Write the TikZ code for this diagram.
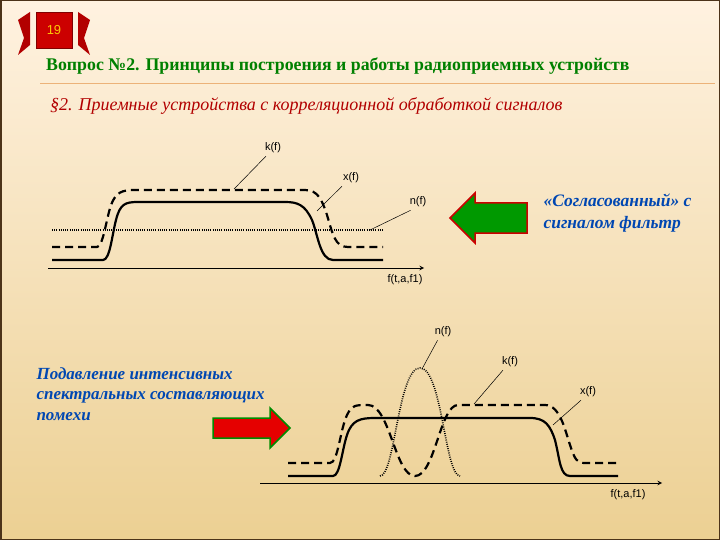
\documentclass[tikz,border=0pt]{standalone}
\usepackage{fontspec}
\setmainfont{Liberation Serif}
\setsansfont{Liberation Sans}
\begin{document}
\begin{tikzpicture}[x=1pt,y=-1pt,
  solidc/.style={line width=2.2pt},
  dashc/.style={line width=2.2pt,dash pattern=on 8pt off 5pt},
  dotc/.style={line width=1.6pt,dash pattern=on 0.9pt off 1.3pt},
  axis/.style={line width=1pt,-stealth},
  lead/.style={line width=0.5pt},
  lbl/.style={font=\sffamily\fontsize{11}{12}\selectfont,inner sep=1pt},
  bluetxt/.style={font=\bfseries\itshape\fontsize{17.5}{22}\selectfont,text=blue!60!cyan!70!black,align=left}]
\useasboundingbox (0,0) rectangle (720,540);
\shade[top color=yellow!15!orange!12, bottom color=orange!35!yellow!40!brown!50] (0,0) rectangle (720,540);
\draw[line width=3pt,brown!40!black] (0,0) rectangle (720,540);
% badge
\fill[red!70!black] (18,20) -- (30,12) -- (30,45) -- (18,55) -- (24,38) -- cycle;
\fill[red!70!black] (90,20) -- (78,12) -- (78,45) -- (90,55) -- (84,38) -- cycle;
\node[fill=red!80!black,draw=red!50!black,minimum width=36pt,minimum height=36pt,text=yellow!60!orange,font=\sffamily\fontsize{13}{14}\selectfont] (badge) at (54,30) {19};
\node[anchor=west,font=\bfseries\fontsize{17.8}{20}\selectfont,text=green!50!black,inner sep=0] (title) at (46,66) {Вопрос №2. Принципы построения и работы радиоприемных устройств};
\draw[orange!50!brown!60,line width=0.8pt] (40,83) -- (715,83);
\node[anchor=west,font=\itshape\fontsize{18}{20}\selectfont,text=red!70!black,inner sep=0] (sub) at (50,106) {§2. Приемные устройства с корреляционной обработкой сигналов};
% ---- top graph
\coordinate (ax1s) at (48,268); \coordinate (ax1e) at (424,268);
\draw[axis] (ax1s) -- (ax1e);
\draw[dotc] (52,230) -- (383,230);
\draw[solidc] (52,260) -- (103,260) .. controls (110,260) and (112,235) .. (116,220) .. controls (120,204) and (125,202) .. (138,202) -- (285,202) .. controls (298,202) and (305,205) .. (312,220) .. controls (318,235) and (320,260) .. (333,260) -- (383,260);
\draw[dashc] (52,247) -- (97,247) .. controls (103,247) and (106,220) .. (111,205) .. controls (116,192) and (122,190) .. (135,190) -- (305,190) .. controls (318,190) and (322,200) .. (327,215) .. controls (333,235) and (335,247) .. (348,247) -- (383,247);
\node[lbl] (k1) at (273,148) {k(f)};
\node[lbl] (x1) at (351,178) {x(f)};
\node[lbl] (n1) at (418,202) {n(f)};
\node[lbl] (f1) at (405,280) {f(t,a,f1)};
\coordinate (k1e) at (234,189); \coordinate (x1e) at (317,211); \coordinate (n1e) at (370,230);
\draw[lead] (k1.south west) ++(2,2) -- (k1e);
\draw[lead] (x1.south west) ++(0,2) -- (x1e);
\draw[lead] (n1.south west) ++(2,2) -- (n1e);
\draw[fill=green!60!black,draw=red!80!black,line width=1.5pt] (450,218) -- (475,193) -- (475,203) -- (527,203) -- (527,233) -- (475,233) -- (475,243) -- cycle;
\node[bluetxt,anchor=west] (t1) at (540,213) {«Согласованный» с\\сигналом фильтр};
% ---- bottom graph
\coordinate (ax2s) at (260,483); \coordinate (ax2e) at (662,483);
\draw[axis] (ax2s) -- (ax2e);
\draw[solidc] (288,476) -- (333,476) .. controls (340,476) and (342,450) .. (347,435) .. controls (352,420) and (360,418) .. (375,418) -- (530,418) .. controls (545,418) and (550,425) .. (555,440) .. controls (560,460) and (560,476) .. (570,476) -- (618,476);
\draw[dashc] (288,463) -- (330,463) .. controls (338,463) and (340,430) .. (347,415) .. controls (352,405) and (355,405) .. (368,405) .. controls (390,405) and (395,476) .. (415,476) .. controls (435,476) and (440,405) .. (458,405) -- (545,405) .. controls (560,405) and (565,430) .. (570,445) .. controls (575,460) and (577,463) .. (585,463) -- (618,463);
\draw[dotc] (380,476) .. controls (395,476) and (398,368) .. (420,368) .. controls (442,368) and (445,476) .. (460,476);
\node[lbl] (n2) at (443,332) {n(f)};
\node[lbl] (k2) at (510,362) {k(f)};
\node[lbl] (x2) at (588,392) {x(f)};
\node[lbl] (f2) at (628,495) {f(t,a,f1)};
\coordinate (n2e) at (422,369); \coordinate (k2e) at (474,404); \coordinate (x2e) at (553,425);
\draw[lead] (n2.south west) ++(4,2) -- (n2e);
\draw[lead] (k2.south west) ++(2,2) -- (k2e);
\draw[lead] (x2.south west) ++(2,2) -- (x2e);
\draw[fill=red!90!black,draw=green!55!black,line width=1.5pt] (290,428) -- (270,408) -- (270,418) -- (213,418) -- (213,438) -- (270,438) -- (270,448) -- cycle;
\node[bluetxt,anchor=north west,font=\bfseries\itshape\fontsize{17}{20.5}\selectfont] (t2) at (33,364) {Подавление интенсивных\\спектральных составляющих\\помехи};
\end{tikzpicture}
\end{document}
